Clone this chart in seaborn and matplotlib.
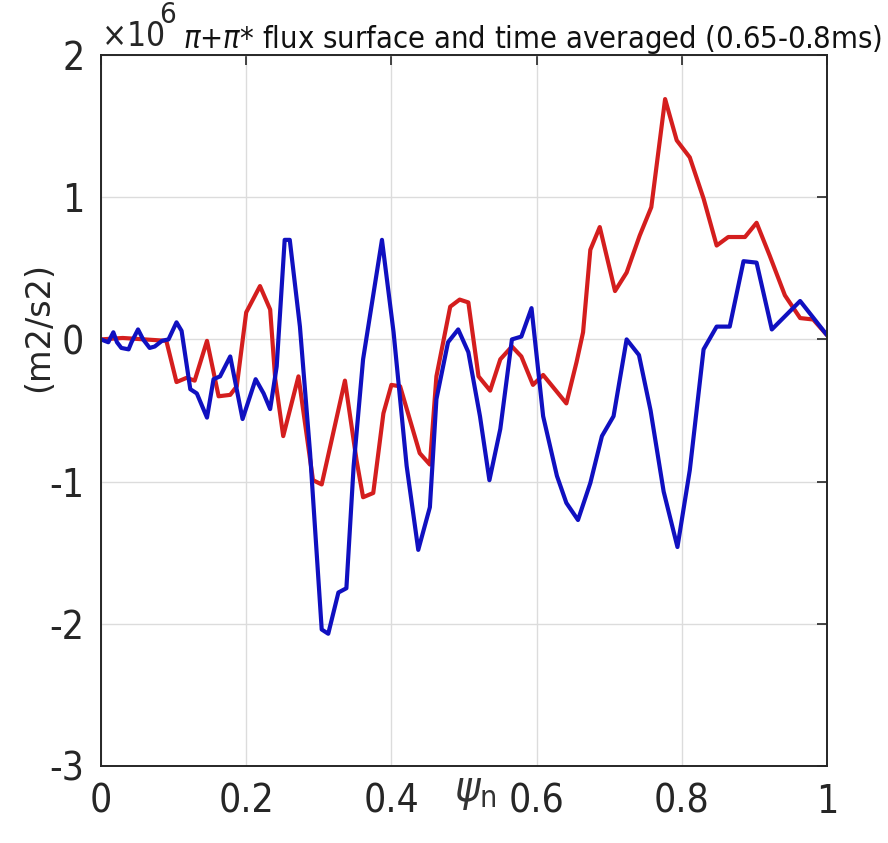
import numpy as np
import pandas as pd
import matplotlib
matplotlib.use("Agg")
import matplotlib.pyplot as plt
import seaborn as sns

# ── data ────────────────────────────────────────────────────
psi_red = [0.0, 0.03, 0.09, 0.104, 0.118, 0.129, 0.146, 0.162, 0.178, 0.187,
           0.2, 0.219, 0.233, 0.24, 0.251, 0.272, 0.292, 0.304, 0.336, 0.352,
           0.361, 0.375, 0.389, 0.40, 0.412, 0.439, 0.453, 0.462, 0.481, 0.494,
           0.506, 0.52, 0.536, 0.55, 0.566, 0.579, 0.595, 0.609, 0.641, 0.655,
           0.664, 0.674, 0.687, 0.708, 0.724, 0.742, 0.758, 0.777, 0.793, 0.811,
           0.83, 0.848, 0.864, 0.887, 0.903, 0.921, 0.942, 0.963, 0.981, 1.0]
flux_red = [0.0, 0.01, -0.01, -0.30, -0.27, -0.29, -0.01, -0.40, -0.39, -0.33,
            0.19, 0.375, 0.21, -0.28, -0.68, -0.26, -0.99, -1.02, -0.29, -0.85,
            -1.11, -1.08, -0.52, -0.32, -0.33, -0.80, -0.88, -0.26, 0.23, 0.28,
            0.26, -0.26, -0.36, -0.14, -0.05, -0.12, -0.32, -0.25, -0.45, -0.16,
            0.05, 0.63, 0.79, 0.34, 0.47, 0.73, 0.93, 1.69, 1.40, 1.28,
            0.99, 0.66, 0.72, 0.72, 0.82, 0.59, 0.31, 0.15, 0.14, 0.03]

psi_blue = [0.0, 0.01, 0.017, 0.022, 0.028, 0.038, 0.042, 0.051, 0.058, 0.067,
            0.074, 0.084, 0.093, 0.104, 0.111, 0.123, 0.132, 0.146, 0.155, 0.164,
            0.178, 0.195, 0.213, 0.224, 0.233, 0.242, 0.253, 0.26, 0.274, 0.288,
            0.304, 0.313, 0.327, 0.338, 0.348, 0.361, 0.387, 0.403, 0.421, 0.437,
            0.453, 0.462, 0.478, 0.492, 0.506, 0.522, 0.535, 0.55, 0.566, 0.579,
            0.593, 0.609, 0.628, 0.641, 0.657, 0.674, 0.69, 0.706, 0.724, 0.741,
            0.757, 0.775, 0.794, 0.811, 0.83, 0.848, 0.866, 0.885, 0.903, 0.924,
            0.963, 1.0]
flux_blue = [0.0, -0.02, 0.05, -0.02, -0.06, -0.07, -0.02, 0.07, 0.0, -0.06,
             -0.05, -0.01, 0.0, 0.12, 0.06, -0.35, -0.38, -0.55, -0.28, -0.26,
             -0.12, -0.56, -0.28, -0.38, -0.49, -0.19, 0.70, 0.70, 0.09, -0.80,
             -2.04, -2.07, -1.78, -1.75, -0.89, -0.14, 0.70, 0.05, -0.89, -1.48,
             -1.18, -0.42, -0.02, 0.07, -0.09, -0.54, -0.99, -0.63, 0.0, 0.02,
             0.22, -0.54, -0.96, -1.15, -1.27, -1.01, -0.68, -0.54, 0.0, -0.11,
             -0.50, -1.07, -1.46, -0.92, -0.07, 0.09, 0.09, 0.55, 0.54, 0.07,
             0.27, 0.03]

x_ticks = [0, 0.2, 0.4, 0.6, 0.8, 1]
x_tick_labels = ["0", "0.2", "0.4", "0.6", "0.8", "1"]
y_ticks = [-3, -2, -1, 0, 1, 2]

TITLE = r"$\pi$+$\pi$* flux surface and time averaged (0.65-0.8ms)"
RED = "#d41e1e"
BLUE = "#1010c0"

# ── figure ──────────────────────────────────────────────────
sns.set_style("white")
plt.rcParams["font.family"] = ["DejaVu Sans"]
plt.rcParams["font.stretch"] = "condensed"
plt.rcParams["mathtext.fontset"] = "dejavusans"
plt.rcParams["axes.unicode_minus"] = False

fig = plt.figure(figsize=(8.88, 8.43), dpi=100)
ax = fig.add_axes([101 / 888, 1 - 766 / 843, 726 / 888, 711 / 843])

df_red = pd.DataFrame({"psi": psi_red, "flux": flux_red})
df_blue = pd.DataFrame({"psi": psi_blue, "flux": flux_blue})
sns.lineplot(data=df_red, x="psi", y="flux", ax=ax, color=RED, lw=3,
             sort=False, estimator=None)
sns.lineplot(data=df_blue, x="psi", y="flux", ax=ax, color=BLUE, lw=3,
             sort=False, estimator=None)

ax.set_xlim(0, 1)
ax.set_ylim(-3, 2)
ax.set_xticks(x_ticks)
ax.set_xticklabels(x_tick_labels)
ax.set_yticks(y_ticks)
ax.grid(True, color="#dcdcdc", lw=1)
ax.tick_params(direction="in", length=7, width=1.2, colors="#262626",
               labelsize=28, top=True, right=True)
ax.tick_params(axis="x", pad=12)
ax.tick_params(axis="y", pad=12)
for s in ax.spines.values():
    s.set_color("#262626")
    s.set_linewidth(1.4)

ax.set_xlabel(r"$\psi_{\rm n}$", fontsize=31, color="#333333")
ax.xaxis.set_label_coords(0.515, -0.005)
ax.set_ylabel("(m2/s2)", fontsize=24, color="#262626", fontstretch="normal")
ax.yaxis.set_label_coords(-0.063, 0.617)

# matlab style exponent + overlapping title
fig.canvas.draw()
rend = fig.canvas.get_renderer()
inv = ax.transAxes.inverted()

t10 = ax.text(0.0, 1.012, r"$\times$10", transform=ax.transAxes, fontsize=24,
              color="#262626", va="baseline", ha="left")
bb = t10.get_window_extent(rend)
x6 = inv.transform((bb.x1 - 5, 0))[0]
ax.text(x6, 1.045, "6", transform=ax.transAxes, fontsize=21,
        color="#262626", va="baseline", ha="left")

title = ax.text(0.113, 1.01, TITLE, transform=ax.transAxes, fontsize=25,
                color="#111111", va="baseline", ha="left")
w = title.get_window_extent(rend).width
title.set_fontsize(25 * 700 / w)

fig.savefig("out.png", dpi=100)
